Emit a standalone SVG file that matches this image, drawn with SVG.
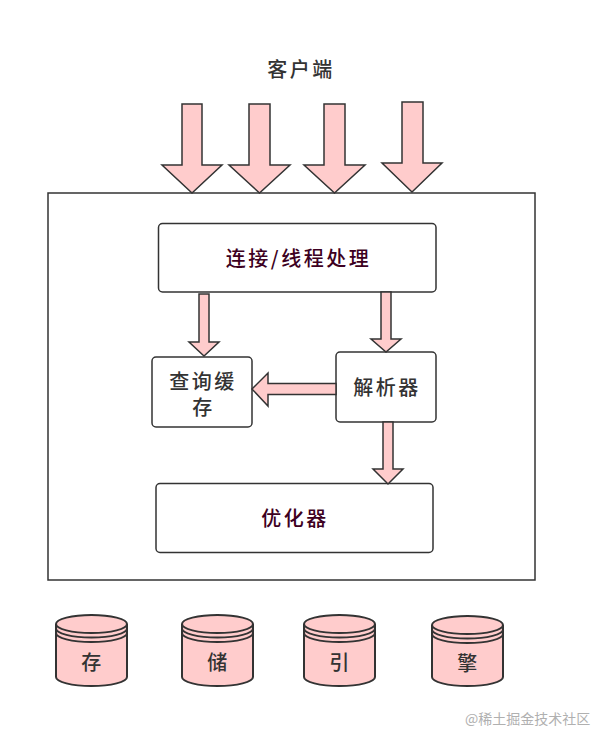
<svg xmlns="http://www.w3.org/2000/svg" width="596" height="747" viewBox="0 0 596 747">
<style>
.box{fill:#ffffff;stroke:#333333;stroke-width:1.5}
.arr{fill:#ffcccc;stroke:#333333;stroke-width:1.5;stroke-linejoin:miter}
.cyl{fill:#ffcccc;stroke:#333333;stroke-width:2}
.ln{fill:none;stroke:#333333;stroke-width:2}
.t{font-family:"Noto Sans CJK SC","Noto Sans",sans-serif;font-size:20px;text-anchor:middle;dominant-baseline:central;letter-spacing:2.5px;font-weight:500}
.dk{fill:#333333}
.mr{fill:#3d0021}
.wm{font-family:"Noto Sans CJK SC","Noto Sans",sans-serif;font-size:14px;fill:#b0b0b0;dominant-baseline:central}
</style>
<rect width="596" height="747" fill="#ffffff"/>
<g id="client">
<text class="t dk" x="301" y="68">客户端</text>
</g>
<g id="server">
<rect class="box" x="48" y="193" width="487" height="387"/>
</g>
<g id="conn">
<rect class="box" x="158.5" y="223.5" width="277.5" height="68.5" rx="4"/>
<text class="t mr" x="298.5" y="257.5">连接/线程处理</text>
</g>
<g id="cache">
<rect class="box" x="152" y="357" width="100" height="70" rx="4"/>
<text class="t dk" x="203" y="380">查询缓</text>
<text class="t dk" x="203.5" y="406.5">存</text>
</g>
<g id="parser">
<rect class="box" x="336" y="352" width="100" height="70" rx="4"/>
<text class="t dk" x="387" y="386.5">解析器</text>
</g>
<g id="optimizer">
<rect class="box" x="156" y="483.5" width="277" height="69" rx="4"/>
<text class="t mr" x="295" y="517.5">优化器</text>
</g>
<g id="connectors">
<polygon class="arr" points="182,104 202,104 202,165 222,165 192,193 162,165 182,165"/>
<polygon class="arr" points="249,104 270,104 270,165 290,165 259.5,193 229,165 249,165"/>
<polygon class="arr" points="324,104 345,104 345,165 365,165 334.5,193 304,165 324,165"/>
<polygon class="arr" points="402,102 423,102 423,163 442,163 412,192 382,163 402,163"/>
<polygon class="arr" points="199,294 209,294 209,342 219,342 204,356 189,342 199,342"/>
<polygon class="arr" points="381,292 391,292 391,339 401,339 386,352 371,339 381,339"/>
<polygon class="arr" points="336,383.5 268,383.5 268,373 252,389 268,406 268,394.5 336,394.5"/>
<polygon class="arr" points="383,422 393,422 393,469 403,469 388,484 373,469 383,469"/>
</g>
<g id="db1">
<path class="cyl" d="M56,624 A35.5,9 0 0 1 127,624 L127,677 A35.5,9 0 0 1 56,677 Z"/>
<path class="ln" d="M56,624 A35.5,9 0 0 0 127,624 M56,628.5 A35.5,9 0 0 0 127,628.5 M56,633 A35.5,9 0 0 0 127,633"/>
<text class="t dk" x="92.5" y="661">存</text>
</g>
<g id="db2">
<path class="cyl" d="M182,624 A35.5,9 0 0 1 253,624 L253,677 A35.5,9 0 0 1 182,677 Z"/>
<path class="ln" d="M182,624 A35.5,9 0 0 0 253,624 M182,628.5 A35.5,9 0 0 0 253,628.5 M182,633 A35.5,9 0 0 0 253,633"/>
<text class="t dk" x="218.5" y="661">储</text>
</g>
<g id="db3">
<path class="cyl" d="M304,624 A35.5,9 0 0 1 375,624 L375,677 A35.5,9 0 0 1 304,677 Z"/>
<path class="ln" d="M304,624 A35.5,9 0 0 0 375,624 M304,628.5 A35.5,9 0 0 0 375,628.5 M304,633 A35.5,9 0 0 0 375,633"/>
<text class="t dk" x="340.5" y="661">引</text>
</g>
<g id="db4">
<path class="cyl" d="M432,625 A35.5,9 0 0 1 503,625 L503,677 A35.5,9 0 0 1 432,677 Z"/>
<path class="ln" d="M432,625 A35.5,9 0 0 0 503,625 M432,629.5 A35.5,9 0 0 0 503,629.5 M432,634 A35.5,9 0 0 0 503,634"/>
<text class="t dk" x="468.5" y="662">擎</text>
</g>
<text class="wm" x="465" y="718">@稀土掘金技术社区</text>
</svg>
